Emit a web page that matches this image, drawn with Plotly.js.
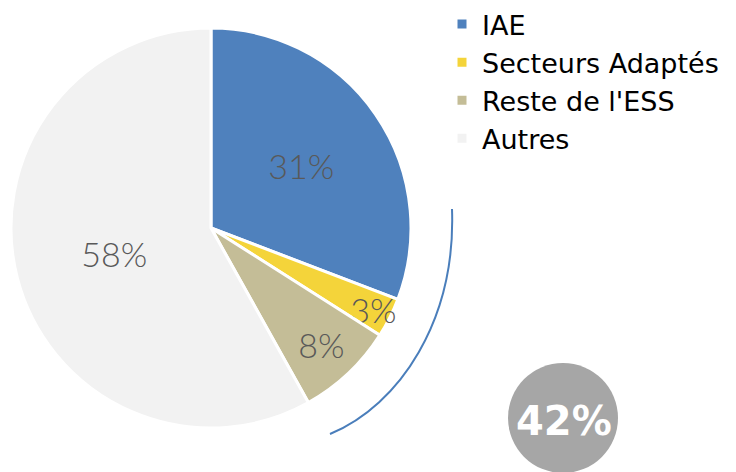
<!DOCTYPE html>
<html>
<head>
<meta charset="utf-8">
<script src="https://cdn.plot.ly/plotly-3.0.1.min.js"></script>
<style>html,body{margin:0;padding:0;background:#fff;}#chart{width:736px;height:472px;}</style>
</head>
<body>
<div id="chart"></div>
<script>
const labels = ["IAE", "Secteurs Adaptés", "Reste de l'ESS", "Autres"];
const values = [30.8, 3.2, 7.9, 58.1];
const colors = ["#4F81BD", "#F4D43A", "#C4BD97", "#F2F2F2"];
const essIdx = [0, 1, 2];

const W = 736, H = 472;
const px = x => x / W;
const py = y => (H - y) / H;

const total = values.reduce((a, b) => a + b, 0);
const essShare = essIdx.reduce((a, i) => a + values[i], 0) / total;

const trace = {
  type: 'pie',
  labels: labels,
  values: values,
  sort: false,
  direction: 'clockwise',
  rotation: 0,
  marker: {colors: colors, line: {color: '#ffffff', width: 3}},
  texttemplate: '%{percent:.0%}',
  textposition: 'inside',
  insidetextorientation: 'horizontal',
  textfont: {family: 'Lato', size: 34, color: '#595959', weight: 300},
  hoverinfo: 'none',
  domain: {x: [px(11), px(411)], y: [py(428), py(28)]}
};

// decorative bracket arc (cubic bezier) in paper coords
const arcPath = `M ${px(452)},${py(209)} C ${px(456)},${py(320)} ${px(400)},${py(405)} ${px(330)},${py(434)}`;

const layout = {
  width: W, height: H, autosize: false,
  margin: {l: 0, r: 0, t: 0, b: 0},
  paper_bgcolor: '#ffffff',
  showlegend: true,
  legend: {
    x: px(442), y: py(0), xanchor: 'left', yanchor: 'top',
    font: {family: 'DejaVu Sans', size: 27, color: '#000000'},
    tracegroupgap: 0, itemclick: false
  },
  uniformtext: {mode: 'show', minsize: 34},
  shapes: [
    {type: 'path', xref: 'paper', yref: 'paper', path: arcPath,
     line: {color: '#4A7EBB', width: 2}},
    {type: 'circle', xref: 'paper', yref: 'paper', layer: 'above',
     x0: px(508), x1: px(618), y0: py(473), y1: py(363),
     fillcolor: '#A6A6A6', line: {width: 0}}
  ],
  annotations: [
    {xref: 'paper', yref: 'paper', x: px(564), y: py(421), xanchor: 'center', yanchor: 'middle',
     text: '<b>' + Math.round(essShare * 100) + '%</b>', showarrow: false,
     font: {family: 'DejaVu Sans', size: 40, color: '#ffffff'}}
  ]
};

Plotly.newPlot('chart', [trace], layout, {displayModeBar: false, staticPlot: true});
</script>
</body>
</html>
